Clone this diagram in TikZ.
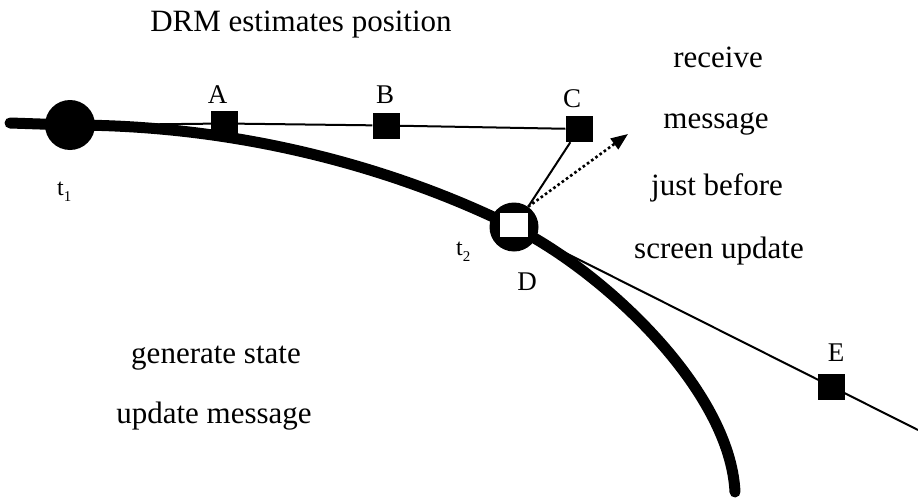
\documentclass[tikz,border=0pt]{standalone}
\usepackage{fontspec}
\setmainfont{Liberation Serif}
\usetikzlibrary{arrows.meta}
\newcommand{\lowsub}[1]{\raisebox{-6pt}{\fontsize{15}{15}\selectfont #1}}
\begin{document}
\begin{tikzpicture}[x=1pt,y=-1pt,
  txt/.style={anchor=base,inner sep=0pt,font=\fontsize{31}{36}\selectfont},
  ptlabel/.style={anchor=base,inner sep=0pt,font=\fontsize{27}{30}\selectfont},
  tlabel/.style={anchor=base west,inner sep=0pt,font=\fontsize{24}{28}\selectfont},
  path/.style={line width=11pt,line cap=round},
  thinline/.style={line width=2pt},
  marker/.style={rectangle,fill=black,minimum width=27pt,minimum height=26pt,inner sep=0pt},
  dotarrow/.style={line width=2.6pt,dash pattern=on 2.6pt off 2.6pt,
    -{Triangle[length=17pt,width=13pt]}}]
\useasboundingbox (0,0) rectangle (918,503);

% positions along the trajectory
\coordinate (start) at (10,123);
\coordinate (p1) at (70,125);
\coordinate (p2) at (514,227);
\coordinate (finish) at (735,492);
\coordinate (far) at (918,430);
\coordinate (dir) at (628,134);

% true trajectory (thick curve)
\draw[path] (start) -- (p1)
  .. controls (280,125) and (440,190) .. (p2)
  .. controls (604,272) and (730,390) .. (finish);

% dead-reckoned tangent from D
\draw[thinline] (p2) -- (far);

% markers
\node[circle,fill=black,minimum size=50pt,inner sep=0pt] (t1) at (p1) {};
\node[circle,fill=black,minimum size=49pt,inner sep=0pt] (D) at (p2) {};
\node[rectangle,fill=white,minimum width=28pt,minimum height=24pt,inner sep=0pt] (Dsq) at (514,225) {};
\node[marker] (A) at (224.5,123.5) {};
\node[marker] (B) at (386,125.5) {};
\node[marker] (C) at (579,129) {};
\node[marker] (E) at (831,387) {};

% DRM estimated path
\draw[thinline] (t1.east) -- (A) -- (B) -- (C);
\draw[thinline] (D.55) -- (C);
\draw[dotarrow] (D.55) -- (dir);

% point labels
\node[ptlabel] (lA) at (217.5,103) {A};
\node[ptlabel] (lB) at (385,103) {B};
\node[ptlabel] (lC) at (572,107) {C};
\node[ptlabel] (lD) at (527,290) {D};
\node[ptlabel] (lE) at (836,361) {E};
\node[tlabel] (lt1) at (57,195) {t\lowsub{1}};
\node[tlabel] (lt2) at (456,255) {t\lowsub{2}};

% descriptive texts
\node[txt] (drm) at (301,32) {DRM estimates position};
\node[txt] (r1) at (718,67) {receive};
\node[txt] (r2) at (716,128) {message};
\node[txt] (r3) at (717,195) {just before};
\node[txt] (r4) at (719,258) {screen update};
\node[txt] (g1) at (216,363) {generate state};
\node[txt] (g2) at (214,423) {update message};
\end{tikzpicture}
\end{document}
